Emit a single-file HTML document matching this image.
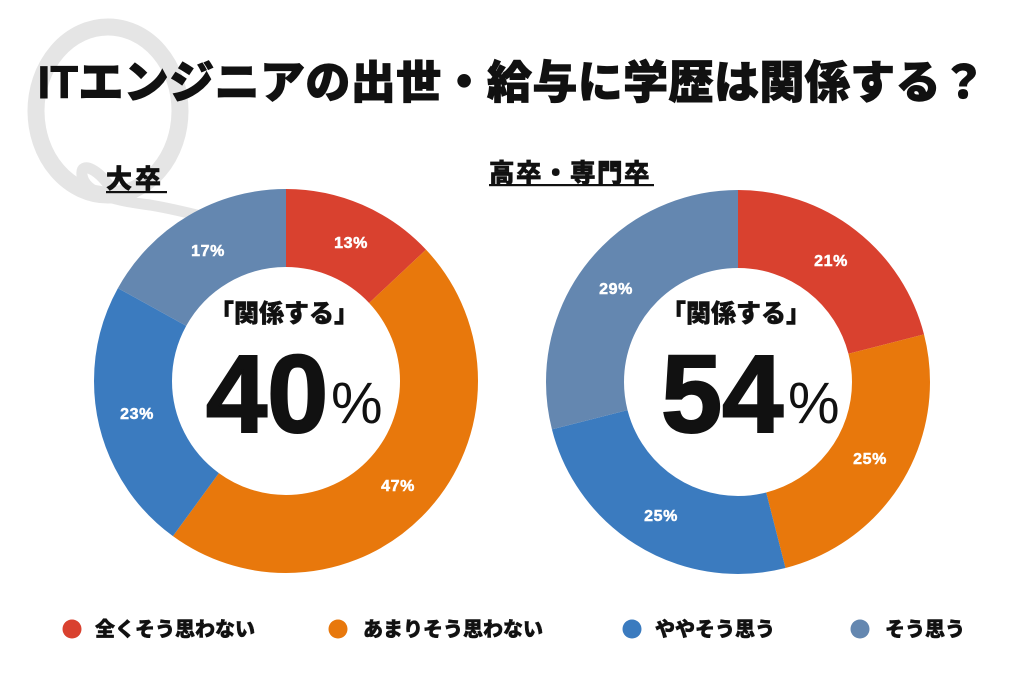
<!DOCTYPE html>
<html>
<head>
<meta charset="utf-8">
<style>
html,body{margin:0;padding:0;background:#fff;}
body{width:1024px;height:683px;overflow:hidden;}
svg{display:block;}
.jp{font-family:"Liberation Sans","Noto Sans CJK JP",sans-serif;font-weight:900;}
.pct{font-family:"Liberation Sans","Noto Sans CJK JP",sans-serif;font-weight:700;font-size:16px;fill:#fff;stroke:#fff;stroke-width:0.5;letter-spacing:0.6px;}
.big{font-family:"Liberation Sans",sans-serif;font-weight:700;font-size:110px;fill:#111;stroke:#111;stroke-width:2;}
.pc{font-family:"Liberation Sans",sans-serif;font-weight:400;font-size:58px;fill:#111;}
</style>
</head>
<body>
<svg width="1024" height="683" viewBox="0 0 1024 683" xmlns="http://www.w3.org/2000/svg">
  <rect width="1024" height="683" fill="#fff"/>
  <!-- Q watermark -->
  <g fill="none" stroke="#e5e5e5" stroke-linecap="round">
    <ellipse cx="108" cy="111" rx="72" ry="84" stroke-width="17"/>
    <path d="M 112 190 C 100 170, 80 160, 82 175 C 84 192, 110 200, 150 205 C 180 210, 200 216, 225 222" stroke-width="11"/>
  </g>

  <!-- Title -->
  <text x="512" y="98" text-anchor="middle" class="jp" font-size="45" fill="#111" stroke="#111" stroke-width="1" letter-spacing="0.4">ITエンジニアの出世・給与に学歴は関係する？</text>

  <!-- Subtitles -->
  <text x="106" y="188" class="jp" font-size="26" fill="#111" stroke="#111" stroke-width="0.6" letter-spacing="3">大卒</text>
  <rect x="106" y="191" width="61" height="2.2" fill="#111"/>
  <text x="489" y="182" class="jp" font-size="25.5" fill="#111" stroke="#111" stroke-width="0.6" letter-spacing="1.5">高卒・専門卒</text>
  <rect x="489" y="184" width="165" height="2.2" fill="#111"/>

  <!-- Left donut -->
  <g fill="none" stroke-width="78" transform="rotate(-90 286 381)">
    <circle cx="286" cy="381" r="153" stroke="#d9412f" stroke-dasharray="124.97 836.36" stroke-dashoffset="0"/>
    <circle cx="286" cy="381" r="153" stroke="#e8780c" stroke-dasharray="451.83 509.50" stroke-dashoffset="-124.97"/>
    <circle cx="286" cy="381" r="153" stroke="#3b7bbf" stroke-dasharray="221.11 740.22" stroke-dashoffset="-576.80"/>
    <circle cx="286" cy="381" r="153" stroke="#6487b0" stroke-dasharray="163.43 797.90" stroke-dashoffset="-797.90"/>
  </g>
  <text x="351" y="248" text-anchor="middle" class="pct">13%</text>
  <text x="208" y="256" text-anchor="middle" class="pct">17%</text>
  <text x="137" y="419" text-anchor="middle" class="pct">23%</text>
  <text x="398" y="491" text-anchor="middle" class="pct">47%</text>

  <text x="284" y="322" text-anchor="middle" class="jp" font-size="25" fill="#111" stroke="#111" stroke-width="0.5">「関係する」</text>
  <text x="206" y="432" class="big">40</text>
  <text x="331" y="423" class="pc">%</text>

  <!-- Right donut -->
  <g fill="none" stroke-width="78" transform="rotate(-90 738 382)">
    <circle cx="738" cy="382" r="153" stroke="#d9412f" stroke-dasharray="201.88 759.45" stroke-dashoffset="0"/>
    <circle cx="738" cy="382" r="153" stroke="#e8780c" stroke-dasharray="240.33 721.00" stroke-dashoffset="-201.88"/>
    <circle cx="738" cy="382" r="153" stroke="#3b7bbf" stroke-dasharray="240.33 721.00" stroke-dashoffset="-442.21"/>
    <circle cx="738" cy="382" r="153" stroke="#6487b0" stroke-dasharray="278.79 682.54" stroke-dashoffset="-682.54"/>
  </g>
  <text x="831" y="266" text-anchor="middle" class="pct">21%</text>
  <text x="870" y="464" text-anchor="middle" class="pct">25%</text>
  <text x="661" y="521" text-anchor="middle" class="pct">25%</text>
  <text x="616" y="294" text-anchor="middle" class="pct">29%</text>

  <text x="736" y="322" text-anchor="middle" class="jp" font-size="25" fill="#111" stroke="#111" stroke-width="0.5">「関係する」</text>
  <text x="661" y="432" class="big">54</text>
  <text x="788" y="423" class="pc">%</text>

  <!-- Legend -->
  <circle cx="72" cy="629" r="9.5" fill="#d9412f"/>
  <text x="95" y="636" class="jp" font-size="20" fill="#111" stroke="#111" stroke-width="0.5">全くそう思わない</text>
  <circle cx="338" cy="629" r="9.5" fill="#e8780c"/>
  <text x="363" y="636" class="jp" font-size="20" fill="#111" stroke="#111" stroke-width="0.5">あまりそう思わない</text>
  <circle cx="632" cy="629" r="9.5" fill="#3b7bbf"/>
  <text x="655" y="636" class="jp" font-size="20" fill="#111" stroke="#111" stroke-width="0.5">ややそう思う</text>
  <circle cx="860" cy="629" r="9.5" fill="#6487b0"/>
  <text x="885" y="636" class="jp" font-size="20" fill="#111" stroke="#111" stroke-width="0.5">そう思う</text>
</svg>
</body>
</html>
